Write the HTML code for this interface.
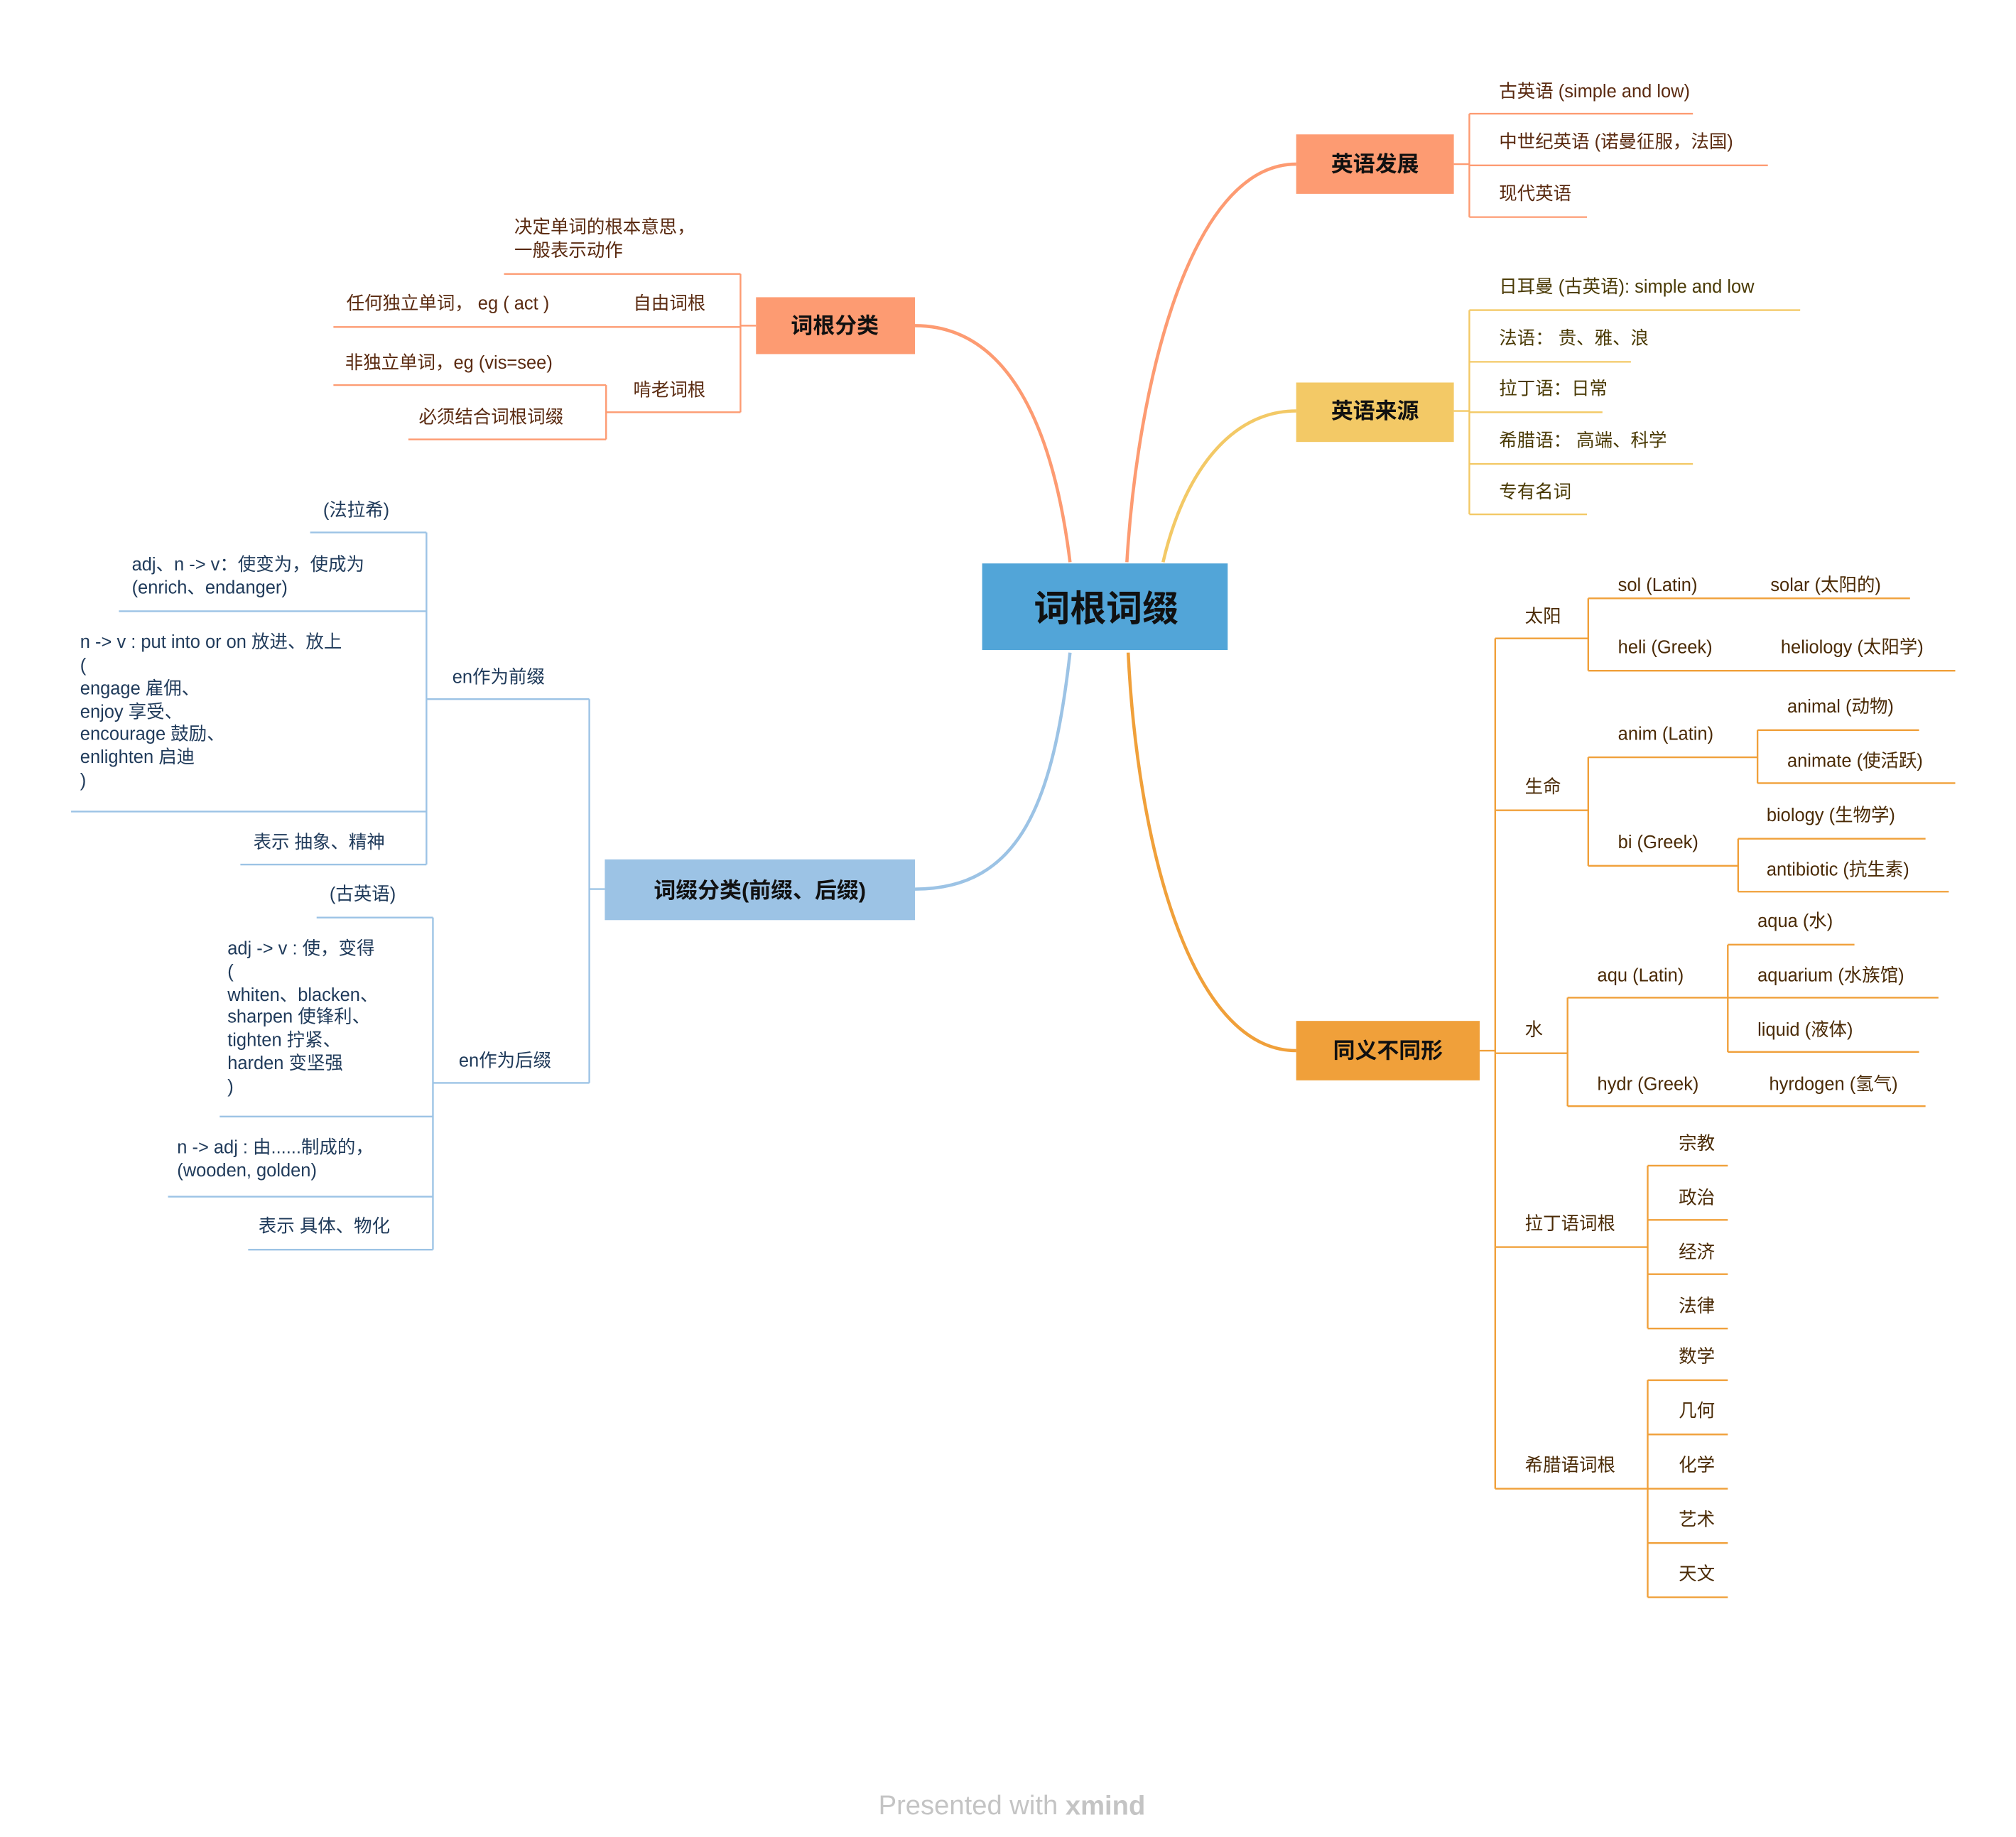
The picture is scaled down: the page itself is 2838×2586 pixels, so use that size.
<!DOCTYPE html>
<html><head><meta charset="utf-8"><style>
html,body{margin:0;padding:0;background:#fff;}
svg{display:block;}
text{font-family:"Liberation Sans","Noto Sans CJK SC",sans-serif;dominant-baseline:central;}
.b{fill:#5a2a10;font-size:14px;}
.y{fill:#4a3a05;font-size:14px;}
.o{fill:#4a2a05;font-size:14px;}
.n{fill:#1f3a5a;font-size:14px;}
.lb{stroke:#fd9b72;stroke-width:1.3;fill:none;}
.ly{stroke:#f3c966;stroke-width:1.3;fill:none;}
.lo{stroke:#f0a03a;stroke-width:1.3;fill:none;}
.ln{stroke:#9cc3e5;stroke-width:1.3;fill:none;}
.t{font-weight:bold;font-size:17px;fill:#111;text-anchor:middle;}
</style></head><body>
<svg width="2838" height="2586" viewBox="0 0 1560 1421.5" xmlns="http://www.w3.org/2000/svg">
<rect width="1560" height="1421.5" fill="#fff"/>
<!-- connectors -->
<path d="M872 435 C 880 300, 920 127, 1003 127" stroke="#fd9b72" stroke-width="2.5" fill="none"/>
<path d="M900 435 C 915 370, 950 318, 1003 318" stroke="#f3c966" stroke-width="2.5" fill="none"/>
<path d="M873 505 C 880 650, 920 813, 1003 813" stroke="#f0a03a" stroke-width="2.5" fill="none"/>
<path d="M828 435 C 815 330, 780 252, 708 252" stroke="#fd9b72" stroke-width="2.5" fill="none"/>
<path d="M828 505 C 815 620, 790 688, 708 688" stroke="#9cc3e5" stroke-width="2.5" fill="none"/>
<!-- center -->
<rect x="760" y="436" width="190" height="67" fill="#52a5d8"/>
<text x="856" y="471" style="font-size:28px;font-weight:bold;fill:#111;text-anchor:middle">词根词缀</text>
<!-- 英语发展 -->
<rect x="1003" y="104" width="122" height="46" fill="#fd9b72"/>
<text class="t" x="1064" y="127">英语发展</text>
<path class="lb" d="M1125 127 H1137 M1137 88 V168 M1137 88 H1310 M1137 128 H1368 M1137 168 H1228"/>
<text class="b" x="1160" y="71">古英语 (simple and low)</text>
<text class="b" x="1160" y="110">中世纪英语 (诺曼征服，法国)</text>
<text class="b" x="1160" y="150">现代英语</text>
<!-- 英语来源 -->
<rect x="1003" y="296" width="122" height="46" fill="#f3c966"/>
<text class="t" x="1064" y="318">英语来源</text>
<path class="ly" d="M1125 318 H1137 M1137 240 V398 M1137 240 H1393 M1137 280 H1262 M1137 319 H1240 M1137 359 H1310 M1137 398 H1228"/>
<text class="y" x="1160" y="222">日耳曼 (古英语): simple and low</text>
<text class="y" x="1160" y="262">法语： 贵、雅、浪</text>
<text class="y" x="1160" y="301">拉丁语：日常</text>
<text class="y" x="1160" y="341">希腊语： 高端、科学</text>
<text class="y" x="1160" y="381">专有名词</text>
<!-- 同义不同形 -->
<rect x="1003" y="790" width="142" height="46" fill="#f0a03a"/>
<text class="t" x="1074" y="813">同义不同形</text>
<path class="lo" d="M1145 813 H1157 M1157 494 V1152
M1157 494 H1229 M1229 463 V519 M1229 463 H1478 M1229 519 H1513
M1157 627 H1229 M1229 586 V670 M1229 586 H1360 M1360 565 V606 M1360 565 H1485 M1360 606 H1513
M1229 670 H1345 M1345 649 V690 M1345 649 H1490 M1345 690 H1508
M1157 815 H1213 M1213 772 V856 M1213 772 H1337 M1337 731 V814 M1337 731 H1435 M1337 772 H1500 M1337 814 H1485 M1213 856 H1490
M1157 965 H1275 M1275 902 V1028 M1275 902 H1337 M1275 944 H1337 M1275 986 H1337 M1275 1028 H1337
M1157 1152 H1275 M1275 1068 V1236 M1275 1068 H1337 M1275 1110 H1337 M1275 1152 H1337 M1275 1194 H1337 M1275 1236 H1337"/>
<text class="o" x="1180" y="477">太阳</text>
<text class="o" x="1252" y="453">sol (Latin)</text>
<text class="o" x="1370" y="453">solar (太阳的)</text>
<text class="o" x="1252" y="501">heli (Greek)</text>
<text class="o" x="1378" y="501">heliology (太阳学)</text>
<text class="o" x="1180" y="609">生命</text>
<text class="o" x="1252" y="568">anim (Latin)</text>
<text class="o" x="1383" y="547">animal (动物)</text>
<text class="o" x="1383" y="589">animate (使活跃)</text>
<text class="o" x="1252" y="652">bi (Greek)</text>
<text class="o" x="1367" y="631">biology (生物学)</text>
<text class="o" x="1367" y="673">antibiotic (抗生素)</text>
<text class="o" x="1180" y="797">水</text>
<text class="o" x="1236" y="755">aqu (Latin)</text>
<text class="o" x="1360" y="713">aqua (水)</text>
<text class="o" x="1360" y="755">aquarium (水族馆)</text>
<text class="o" x="1360" y="797">liquid (液体)</text>
<text class="o" x="1236" y="839">hydr (Greek)</text>
<text class="o" x="1369" y="839">hyrdogen (氢气)</text>
<text class="o" x="1180" y="947">拉丁语词根</text>
<text class="o" x="1299" y="885">宗教</text>
<text class="o" x="1299" y="927">政治</text>
<text class="o" x="1299" y="969">经济</text>
<text class="o" x="1299" y="1011">法律</text>
<text class="o" x="1180" y="1134">希腊语词根</text>
<text class="o" x="1299" y="1050">数学</text>
<text class="o" x="1299" y="1092">几何</text>
<text class="o" x="1299" y="1134">化学</text>
<text class="o" x="1299" y="1176">艺术</text>
<text class="o" x="1299" y="1218">天文</text>
<!-- 词根分类 -->
<rect x="585" y="230" width="123" height="44" fill="#fd9b72"/>
<text class="t" x="646" y="252">词根分类</text>
<path class="lb" d="M585 252 H573 M573 212 V319 M573 212 H390 M573 253 H258 M573 319 H469 M469 298 V340 M469 298 H258 M469 340 H316"/>
<text class="b" x="398" y="176">决定单词的根本意思，</text>
<text class="b" x="398" y="194">一般表示动作</text>
<text class="b" x="268" y="235">任何独立单词， eg ( act )</text>
<text class="b" x="490" y="235">自由词根</text>
<text class="b" x="490" y="302">啃老词根</text>
<text class="b" x="267" y="281">非独立单词，eg (vis=see)</text>
<text class="b" x="324" y="323">必须结合词根词缀</text>
<!-- 词缀分类 -->
<rect x="468" y="665" width="240" height="47" fill="#9cc3e5"/>
<text class="t" x="588" y="689">词缀分类(前缀、后缀)</text>
<path class="ln" d="M468 688 H456 M456 541 V838 M456 541 H330 M330 412 V669 M330 412 H240 M330 473 H92 M330 628 H55 M330 669 H186
M456 838 H335 M335 710 V967 M335 710 H245 M335 864 H170 M335 926 H130 M335 967 H192"/>
<text class="n" x="350" y="524">en作为前缀</text>
<text class="n" x="250" y="395">(法拉希)</text>
<text class="n" x="102" y="437">adj、n -&gt; v：使变为，使成为</text>
<text class="n" x="102" y="455">(enrich、endanger)</text>
<text class="n" x="62" y="497">n -&gt; v : put into or on 放进、放上</text>
<text class="n" x="62" y="515">(</text>
<text class="n" x="62" y="533">engage 雇佣、</text>
<text class="n" x="62" y="551">enjoy 享受、</text>
<text class="n" x="62" y="568">encourage 鼓励、</text>
<text class="n" x="62" y="586">enlighten 启迪</text>
<text class="n" x="62" y="604">)</text>
<text class="n" x="196" y="652">表示 抽象、精神</text>
<text class="n" x="355" y="821">en作为后缀</text>
<text class="n" x="255" y="692">(古英语)</text>
<text class="n" x="176" y="734">adj -&gt; v : 使，变得</text>
<text class="n" x="176" y="752">(</text>
<text class="n" x="176" y="770">whiten、blacken、</text>
<text class="n" x="176" y="787">sharpen 使锋利、</text>
<text class="n" x="176" y="805">tighten 拧紧、</text>
<text class="n" x="176" y="823">harden 变坚强</text>
<text class="n" x="176" y="841">)</text>
<text class="n" x="137" y="888">n -&gt; adj : 由......制成的，</text>
<text class="n" x="137" y="906">(wooden, golden)</text>
<text class="n" x="200" y="949">表示 具体、物化</text>
<!-- footer -->
<text x="783" y="1397" style="font-size:21px;fill:#c4c4c4;text-anchor:middle">Presented with <tspan font-weight="bold">xmind</tspan></text>
</svg>
</body></html>
